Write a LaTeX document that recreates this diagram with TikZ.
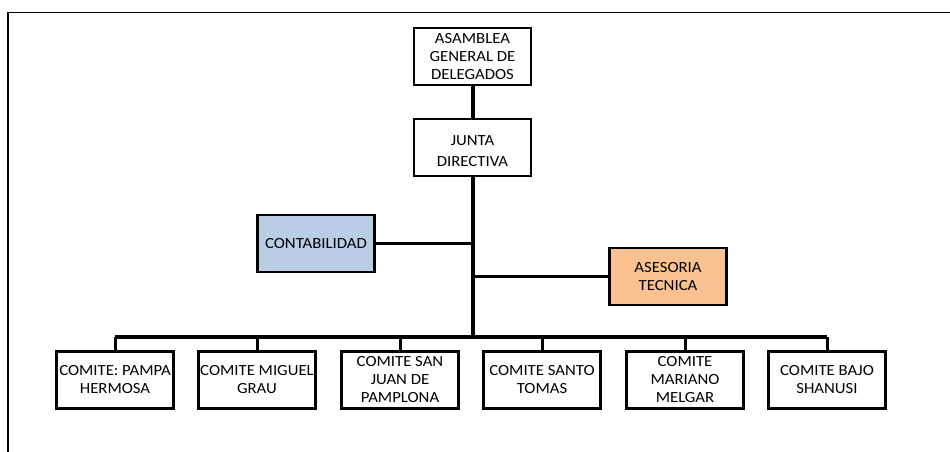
\documentclass[tikz,border=0pt]{standalone}
\usepackage{fontspec}
\setmainfont{Carlito}[FakeStretch=1.08]
\definecolor{contab}{HTML}{B9CDE5}
\definecolor{aseso}{HTML}{FAC191}
\begin{document}
\begin{tikzpicture}[x=1pt,y=-1pt,
  box/.style={draw=black,line width=2.6pt,fill=white,minimum width=117pt,minimum height=57pt,
    inner sep=0pt,align=center,font=\fontsize{15.5}{18}\selectfont},
  trunk/.style={line width=4pt},
  branch/.style={line width=3pt},
  frame/.style={line width=1.6pt}]
\useasboundingbox (0,0) rectangle (950,452);
\draw[frame] (8,452) -- (8,12.5) -- (950,12.5);
% nodes
\node[box] (asam) at (472.5,56.5) {ASAMBLEA\\GENERAL DE\\DELEGADOS};
\node[box] (junta) at (472.5,147.5) {\raisebox{-5pt}[\height][\depth]{\begin{tabular}{@{}c@{}}JUNTA\\[3pt]DIRECTIVA\end{tabular}}};
\node[box,fill=contab] (cont) at (316,243.5) {CONTABILIDAD};
\node[box,fill=aseso] (ases) at (668,276.5) {ASESORIA\\TECNICA};
\node[box] (c1) at (115,380) {COMITE: PAMPA\\HERMOSA};
\node[box] (c2) at (257,380) {COMITE MIGUEL\\GRAU};
\node[box] (c3) at (400,380) {COMITE SAN\\JUAN DE\\PAMPLONA};
\node[box] (c4) at (542,380) {COMITE SANTO\\TOMAS};
\node[box] (c5) at (685,380) {COMITE\\MARIANO\\MELGAR};
\node[box] (c6) at (827,380) {COMITE BAJO\\SHANUSI};
% bus coordinates
\coordinate (bus) at (472.5,337);
\coordinate (tc) at (472.5,243.5);
\coordinate (ta) at (472.5,276.5);
% connectors
\draw[trunk] (asam.south) -- (junta.north);
\draw[trunk] (junta.south) -- (bus);
\draw[branch] (cont.east) -- (tc);
\draw[branch] (ta) -- (ases.west);
\draw[trunk] (c1.north |- bus) -- (c6.north |- bus);
\foreach \c in {c1,c2,c3,c4,c5,c6}
  \draw[branch] (\c.north |- bus) -- (\c.north);
\end{tikzpicture}
\end{document}
